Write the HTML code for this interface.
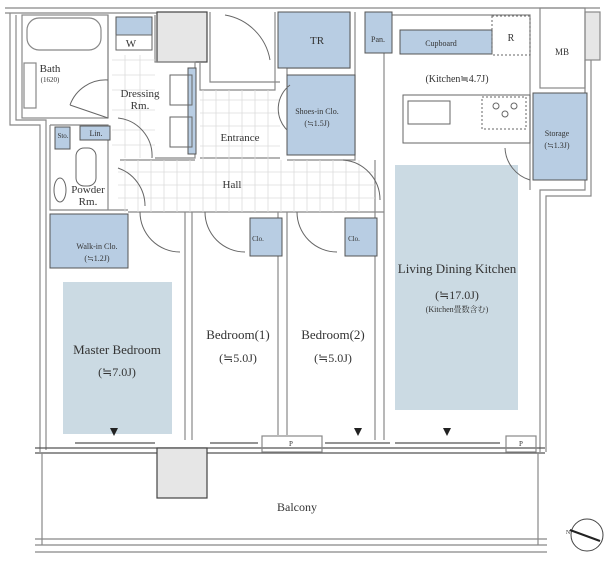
<!DOCTYPE html>
<html><head><meta charset="utf-8"><style>
html,body{margin:0;padding:0;background:#fff}
svg{display:block}
text{font-family:"Liberation Serif","Noto Serif CJK SC",serif;fill:#333;text-anchor:middle}
</style></head><body>
<svg width="610" height="567" viewBox="0 0 610 567" xmlns="http://www.w3.org/2000/svg">
<g fill="none" stroke="#888" stroke-width="1.2">
<path d="M5 8 H600 M5 13 H160"/>
<path d="M10 13 V125 H40 V452 M16 15 V120 H46 V450"/>
<path d="M585 60 V190 H540 V452 M591 60 V196 H546 V452"/>
<rect x="157" y="12" width="50" height="50" fill="#e6e6e6" stroke="#444"/>
<rect x="585" y="12" width="15" height="48" fill="#e6e6e6"/>
<rect x="540" y="8" width="45" height="80"/>
<rect x="22" y="15" width="86" height="103"/>
<rect x="27" y="18" width="74" height="32" rx="12"/>
<rect x="24" y="63" width="12" height="45"/>
<path d="M108 15 V118 M155 15 V62 H195 V158 H155 M200 62 V90 H275 V85 M210 12 V82 H280 M275 12 V85"/>
<path d="M200 158 H280 M120 160 H195 M128 212 H384"/>
<path d="M50 125 H108 V210 M50 125 V210 H128"/>
<path d="M185 212 V440 M192 212 V440 M278 212 V435 M287 212 V435 M375 212 V440 M384 170 V440"/>
<path d="M350 12 V68 H287 V75 M355 12 V160 H287 M375 212 V160"/>
<path d="M384 170 V15 H530 V190"/>
<g stroke="#ddd" stroke-width="0.8">
<path d="M118 172 H375 M118 185 H375 M118 198 H375 M200 100 H280 M200 113 H280 M200 126 H280 M200 146 H280"/>
<path d="M125 160 V212 M138 160 V212 M151 160 V212 M164 160 V212 M177 160 V212 M190 160 V212 M203 90 V212 M216 90 V212 M229 90 V212 M242 90 V212 M255 90 V212 M268 90 V212 M281 160 V212 M294 160 V212 M307 160 V212 M320 160 V212 M333 160 V212 M346 160 V212 M359 160 V212"/>
<path d="M112 60 H155 M112 75 H155 M112 90 H155 M112 110 H155 M112 130 H155 M112 145 H155 M125 55 V158 M140 55 V158"/>
</g>
<path d="M35 448 H545 M35 453 H545 M75 443 H155 M210 443 H258 M325 443 H390 M395 443 H500" stroke="#555"/>
<rect x="262" y="436" width="60" height="16"/>
<rect x="506" y="436" width="30" height="16"/>
<path d="M42 453 V545 M538 453 V545 M35 539 H547 M35 545 H547 M35 552 H547"/>
<rect x="157" y="448" width="50" height="50" fill="#e6e6e6" stroke="#444"/>
</g>
<g fill="#b8cde3" stroke="#555" stroke-width="1">
<rect x="116" y="17" width="36" height="18"/>
<rect x="188" y="68" width="8" height="86"/>
<rect x="278" y="12" width="72" height="56"/>
<rect x="287" y="75" width="68" height="80"/>
<rect x="365" y="12" width="27" height="41"/>
<rect x="400" y="30" width="92" height="24"/>
<rect x="533" y="93" width="54" height="87"/>
<rect x="50" y="214" width="78" height="54"/>
<rect x="250" y="218" width="32" height="38"/>
<rect x="345" y="218" width="32" height="38"/>
<rect x="55" y="127" width="15" height="22"/>
<rect x="80" y="126" width="30" height="14"/>
</g>
<g fill="#cbdae3"><rect x="63" y="282" width="109" height="152"/><rect x="395" y="165" width="123" height="245"/></g>
<g fill="none" stroke="#666" stroke-width="1">
<rect x="116" y="35" width="36" height="15"/>
<rect x="403" y="95" width="127" height="48"/>
<rect x="408" y="101" width="42" height="23"/>
<rect x="482" y="97" width="44" height="32" stroke-dasharray="2 2"/>
<circle cx="496" cy="106" r="3"/><circle cx="514" cy="106" r="3"/><circle cx="505" cy="114" r="3"/>
<rect x="492" y="16" width="38" height="39" stroke-dasharray="2 2"/>
<rect x="170" y="75" width="22" height="30"/><rect x="170" y="117" width="22" height="30"/>
<rect x="76" y="148" width="20" height="38" rx="8"/>
<ellipse cx="60" cy="190" rx="6" ry="12"/>
<path d="M108 80 A38 38 0 0 0 70 105 M108 118 L70 105 M118 118 A38 38 0 0 1 152 158 M118 168 A40 40 0 0 1 145 206 M140 212 A40 40 0 0 0 180 252 M205 212 A40 40 0 0 0 245 252 M297 212 A40 40 0 0 0 337 252 M343 160 A40 40 0 0 1 380 200 M505 148 A35 35 0 0 0 530 180 M225 15 A55 55 0 0 1 270 60 M290 85 A30 30 0 0 0 287 130"/>
</g>
<g fill="#222"><path d="M110 428 l8 0 l-4 8z M354 428 l8 0 l-4 8z M443 428 l8 0 l-4 8z"/></g>
<circle cx="587" cy="535" r="16" fill="none" stroke="#444"/>
<path d="M570 530 L600 541" stroke="#222" stroke-width="2"/>
<g font-size="11">
<text x="50" y="72">Bath</text>
<text x="50" y="82" font-size="7">(1620)</text>
<text x="131" y="47">W</text>
<text x="140" y="97">Dressing</text><text x="140" y="109">Rm.</text>
<text x="240" y="141">Entrance</text>
<text x="232" y="188">Hall</text>
<text x="88" y="193">Powder</text><text x="88" y="205">Rm.</text>
<text x="96" y="136" font-size="8">Lin.</text>
<text x="63" y="138" font-size="7">Sto.</text>
<text x="97" y="249" font-size="8">Walk-in Clo.</text>
<text x="97" y="261" font-size="8">(≒1.2J)</text>
<text x="258" y="241" font-size="7">Clo.</text>
<text x="354" y="241" font-size="7">Clo.</text>
<text x="117" y="354" font-size="13">Master Bedroom</text>
<text x="117" y="376" font-size="12">(≒7.0J)</text>
<text x="238" y="339" font-size="13">Bedroom(1)</text>
<text x="238" y="362" font-size="12">(≒5.0J)</text>
<text x="333" y="339" font-size="13">Bedroom(2)</text>
<text x="333" y="362" font-size="12">(≒5.0J)</text>
<text x="457" y="273" font-size="13">Living Dining Kitchen</text>
<text x="457" y="299" font-size="12">(≒17.0J)</text>
<text x="457" y="312" font-size="8">(Kitchen畳数含む)</text>
<text x="457" y="82" font-size="10">(Kitchen≒4.7J)</text>
<text x="557" y="136" font-size="8">Storage</text>
<text x="557" y="148" font-size="8">(≒1.3J)</text>
<text x="562" y="55" font-size="9">MB</text>
<text x="441" y="46" font-size="8">Cupboard</text>
<text x="511" y="41" font-size="10">R</text>
<text x="378" y="42" font-size="8">Pan.</text>
<text x="317" y="44">TR</text>
<text x="317" y="114" font-size="8">Shoes-in Clo.</text>
<text x="317" y="126" font-size="8">(≒1.5J)</text>
<text x="291" y="446" font-size="7">P</text>
<text x="521" y="446" font-size="7">P</text>
<text x="297" y="511" font-size="12">Balcony</text>
<text x="568" y="534" font-size="6">N</text>
</g>
</svg>
</body></html>
